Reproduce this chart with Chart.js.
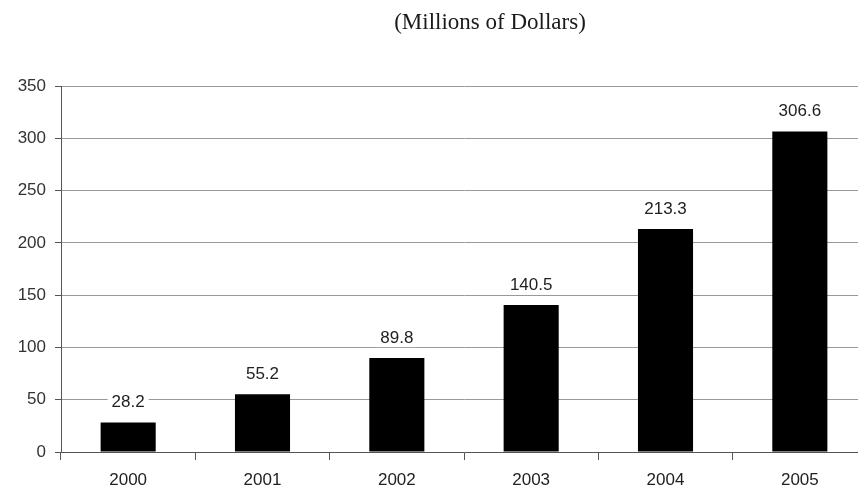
<!DOCTYPE html>
<html>
<head>
<meta charset="utf-8">
<script src="https://cdn.jsdelivr.net/npm/chart.js@4/dist/chart.umd.min.js"></script>
<style>
html,body{margin:0;padding:0;background:#fff;overflow:hidden;width:858px;height:489px;}
#wrap{position:relative;width:867px;height:489px;}
</style>
</head>
<body>
<div id="wrap"><canvas id="c" width="867" height="489"></canvas></div>
<script>
const categories = ["2000", "2001", "2002", "2003", "2004", "2005"];
const values = [28.2, 55.2, 89.8, 140.5, 213.3, 306.6];
const titleText = "(Millions of Dollars)";
const yMax = 350;
const yStep = 50;

const labelPlugin = {
  id: 'labels',
  afterDatasetsDraw(chart) {
    const ctx = chart.ctx;
    const meta = chart.getDatasetMeta(0);
    ctx.save();
    ctx.font = '17px "Liberation Sans", Arial, sans-serif';
    ctx.textAlign = 'center';
    ctx.textBaseline = 'middle';
    meta.data.forEach((bar, i) => {
      const txt = values[i].toFixed(1);
      const w = ctx.measureText(txt).width;
      const y = bar.y - 20;
      ctx.fillStyle = '#fff';
      ctx.fillRect(bar.x - w / 2 - 4, y - 9, w + 8, 18);
      ctx.fillStyle = '#222';
      ctx.fillText(txt, bar.x, y);
    });
    ctx.restore();
  }
};

const titlePlugin = {
  id: 'ttl',
  afterDraw(chart) {
    const ctx = chart.ctx;
    ctx.save();
    ctx.font = '23px "Liberation Serif", "Times New Roman", serif';
    ctx.fillStyle = '#1a1a1a';
    ctx.textAlign = 'center';
    ctx.textBaseline = 'middle';
    ctx.fillText(titleText, 490, 23);
    ctx.restore();
  }
};

new Chart(document.getElementById('c'), {
  type: 'bar',
  data: {
    labels: categories,
    datasets: [{
      data: values,
      backgroundColor: '#000',
      borderWidth: 0,
      barPercentage: 0.41,
      categoryPercentage: 1.0
    }]
  },
  options: {
    responsive: false,
    animation: false,
    devicePixelRatio: 1,
    layout: { padding: { top: 86, right: 0, left: 0, bottom: 0 } },
    plugins: { legend: { display: false }, tooltip: { enabled: false } },
    scales: {
      x: {
        grid: { offset: true, drawOnChartArea: false, drawTicks: true, tickLength: 8, color: '#555', lineWidth: 1 },
        border: { display: true, color: '#555', width: 1 },
        ticks: { color: '#222', font: { family: '"Liberation Sans", Arial, sans-serif', size: 17 }, padding: 10 },
        afterFit(s) { s.height = 37; }
      },
      y: {
        min: 0, max: yMax,
        ticks: { stepSize: yStep, color: '#333', font: { family: '"Liberation Sans", Arial, sans-serif', size: 17 }, padding: 9 },
        grid: { color: '#999', lineWidth: 1, tickLength: 6, tickColor: '#555' },
        border: { display: true, color: '#555', width: 1 },
        afterFit(s) { s.width = 61; }
      }
    }
  },
  plugins: [labelPlugin, titlePlugin]
});
</script>
</body>
</html>
